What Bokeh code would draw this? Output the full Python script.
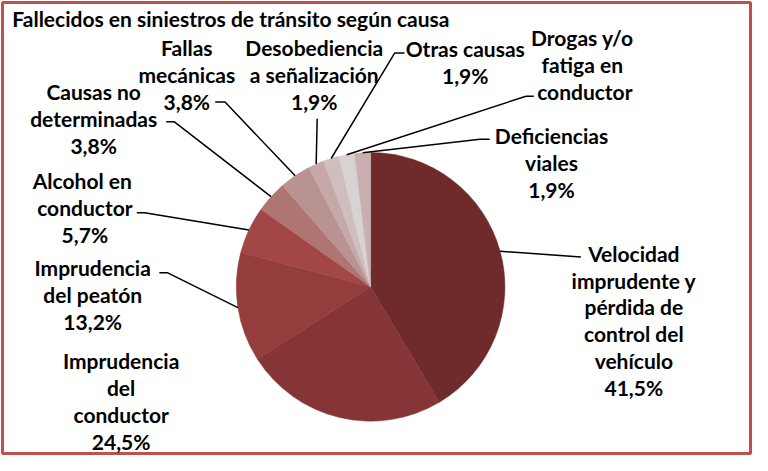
import math
from bokeh.plotting import figure
from bokeh.models import Range1d, ColumnDataSource
from bokeh.core.properties import value
from bokeh.embed import file_html
from bokeh.resources import INLINE

# ---------------- data ----------------
title = "Fallecidos  en siniestros de tránsito según causa"
causes = ["Velocidad imprudente y pérdida de control del vehículo",
          "Imprudencia del conductor",
          "Imprudencia del peatón",
          "Alcohol en conductor",
          "Causas no determinadas",
          "Fallas mecánicas",
          "Desobediencia a señalización",
          "Otras causas",
          "Drogas y/o fatiga en conductor",
          "Deficiencias viales"]
values = [41.5, 24.5, 13.2, 5.7, 3.8, 3.8, 1.9, 1.9, 1.9, 1.9]
show_pct = [True, True, True, True, True, True, True, True, False, True]
label_lines = [["Velocidad", "imprudente y", "pérdida de", "control del", "vehículo"],
               ["Imprudencia", "del", "conductor"],
               ["Imprudencia", "del peatón"],
               ["Alcohol  en", "conductor"],
               ["Causas no", "determinadas"],
               ["Fallas", "mecánicas"],
               ["Desobediencia", "a señalización"],
               ["Otras causas"],
               ["Drogas  y/o", "fatiga  en", "conductor"],
               ["Deficiencias", "viales"]]
colors = ["#6f2b2b", "#853535", "#933d3c", "#a24646", "#ae7573",
          "#b99392", "#c6a8a8", "#cebebe", "#d8d2d2", "#c9afaf"]

# ---------------- layout (reference pixel coords, y down) ----------------
H = 471.0
cx, cy, R = 378.5, 296.5, 137.0
FS = "21px"
LH = 27.5
# label block: center x, first line y
label_pos = [(647, 262), (124, 372), (95, 277), (87, 188), (96, 97),
             (191, 52), (321, 52), (475, 53), (597, 42), (563, 142)]
# leader lines: (start point near label, elbow) or None
leaders = [((593, 266), (593, 266)), None, ((163, 282), (171, 282)),
           ((140, 221), (148, 221)), ((170, 128), (178, 128)),
           ((220, 108), (230, 108)), ((324, 125), (324, 125)),
           ((413, 58), (403, 58)), ((545, 102), (537, 102)),
           ((500, 146), (490, 146))]

def Y(y):
    return H - y

p = figure(width=752, height=455, x_range=Range1d(3, 766),
           y_range=Range1d(4.5, 464.6), toolbar_location=None,
           output_backend="svg", min_border=2)
p.axis.visible = False
p.grid.visible = False
p.outline_line_color = "#c0504d"
p.outline_line_width = 3
p.background_fill_color = "white"

total = sum(values)
starts, ends, mids = [], [], []
cum = 0.0
for v in values:
    a0 = math.pi / 2 - 2 * math.pi * cum / total
    cum += v
    a1 = math.pi / 2 - 2 * math.pi * cum / total
    starts.append(a0)
    ends.append(a1)
    mids.append((a0 + a1) / 2)

src = ColumnDataSource(dict(x=[cx] * len(values), y=[Y(cy)] * len(values),
                            start=starts, end=ends, color=colors))
p.wedge(x="x", y="y", radius=R, start_angle="start", end_angle="end",
        direction="clock", fill_color="color", line_color="color",
        line_width=0.5, source=src)

# leader lines
lx, ly = [], []
for i, ld in enumerate(leaders):
    if ld is None:
        continue
    (sx, sy), (ex, ey) = ld
    px = cx + R * math.cos(mids[i])
    py = Y(cy) + R * math.sin(mids[i])
    lx.append([sx, ex, px])
    ly.append([Y(sy), Y(ey), py])
p.multi_line(xs=lx, ys=ly, line_color="black", line_width=1.5)

# labels
tx, ty, tt = [], [], []
for i, lines in enumerate(label_lines):
    ls = list(lines)
    if show_pct[i]:
        ls.append(f"{values[i]:.1f}".replace(".", ",") + "%")
    x0, y0 = label_pos[i]
    for k, s in enumerate(ls):
        tx.append(x0)
        ty.append(Y(y0 + k * LH))
        tt.append(s)
p.text(x=tx, y=ty, text=tt, text_align="center", text_baseline="middle",
       text_font=value("Lato"), text_font_style="bold", text_font_size=FS,
       text_color="black")

p.text(x=[13], y=[Y(23)], text=[title], text_align="left",
       text_baseline="middle", text_font=value("Lato"),
       text_font_style="bold", text_font_size=FS, text_color="black")

open("out.html", "w").write(file_html(p, INLINE))
